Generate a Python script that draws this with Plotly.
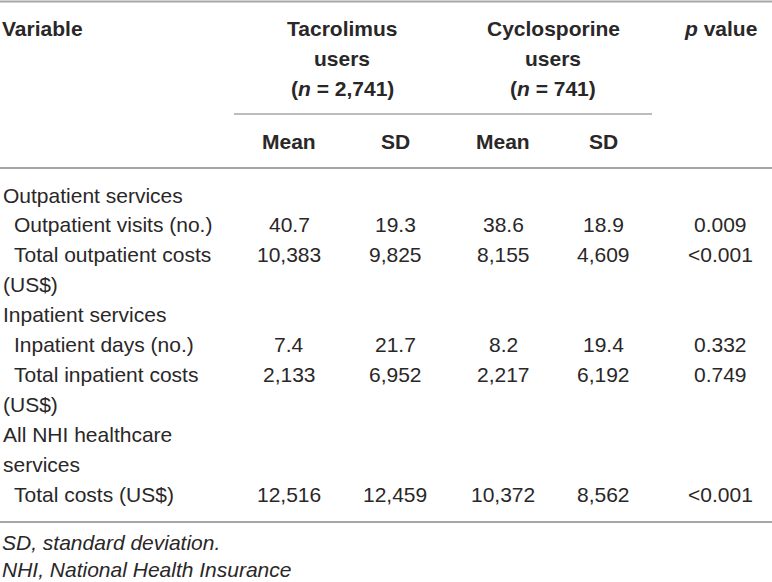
import plotly.graph_objects as go

# ---- table contents ----
row_labels = [
    ["Outpatient services"],
    ["Outpatient visits (no.)"],
    ["Total outpatient costs", "(US$)"],
    ["Inpatient services"],
    ["Inpatient days (no.)"],
    ["Total inpatient costs", "(US$)"],
    ["All NHI healthcare", "services"],
    ["Total costs (US$)"],
]
row_indent = [False, True, True, False, True, True, False, True]

tac_mean = [None, 40.7, 10383, None, 7.4, 2133, None, 12516]
tac_sd = [None, 19.3, 9825, None, 21.7, 6952, None, 12459]
cyc_mean = [None, 38.6, 8155, None, 8.2, 2217, None, 10372]
cyc_sd = [None, 18.9, 4609, None, 19.4, 6192, None, 8562]
p_values = [None, "0.009", "<0.001", None, "0.332", "0.749", None, "<0.001"]

groups = ["Tacrolimus", "Cyclosporine"]
group_n = ["2,741", "741"]
sub_headers = ["Mean", "SD", "Mean", "SD"]
footnotes = ["SD, standard deviation.", "NHI, National Health Insurance"]

# ---- layout constants ----
W, H = 772, 582
FONT = "Liberation Sans, Arial, sans-serif"
FS = 21
TXT = "#2a2728"
RULE = "#a6a6a6"
col_x = [289, 395, 503, 603, 720]
group_x = [342, 553]
line_y0 = 195
line_step = 29.9


def fmt(v):
    if v is None:
        return ""
    if v < 100:
        return f"{v:.1f}"
    return f"{v:,.0f}"


fig = go.Figure()
ann = []


def add_text(x, y, text, xanchor="center", size=FS):
    ann.append(
        dict(
            x=x,
            y=y,
            text=text,
            xref="x",
            yref="y",
            xanchor=xanchor,
            yanchor="middle",
            showarrow=False,
            font=dict(family=FONT, size=size, color=TXT),
        )
    )


######### HEADER #########
add_text(0, 28, "<b>Variable</b>", xanchor="left")
for gx, name, n in zip(group_x, groups, group_n):
    add_text(gx, 28, f"<b>{name}</b>")
    add_text(gx, 58, "<b>users</b>")
    add_text(gx, 88, f"<b>(<i>n</i> = {n})</b>")
add_text(col_x[4], 28, "<b><i>p</i> value</b>")
for cx, h in zip(col_x[:4], sub_headers):
    add_text(cx, 141, f"<b>{h}</b>")

######### BODY #########
line = 0
for i, labels in enumerate(row_labels):
    y = line_y0 + line * line_step
    for j, lab in enumerate(labels):
        x0 = 12 if (row_indent[i] and j == 0) else 1
        add_text(x0, y + j * line_step, lab, xanchor="left")
    vals = [fmt(tac_mean[i]), fmt(tac_sd[i]), fmt(cyc_mean[i]), fmt(cyc_sd[i]),
            p_values[i] or ""]
    for cx, v in zip(col_x, vals):
        if v:
            add_text(cx, y, v)
    line += len(labels)

######### FOOTNOTES #########
add_text(0, 542, f"<i>{footnotes[0]}</i>", xanchor="left")
add_text(0, 569, f"<i>{footnotes[1]}</i>", xanchor="left")

######### RULES #########
shapes = []
for (xa, xb, yy, w) in [(0, W, 1.5, 2), (234, 652, 114, 1.6), (0, W, 168, 2), (0, W, 522, 2)]:
    shapes.append(
        dict(type="line", xref="x", yref="y", x0=xa, x1=xb, y0=yy, y1=yy,
             line=dict(color=RULE, width=w))
    )

fig.update_layout(
    width=W,
    height=H,
    margin=dict(l=0, r=0, t=0, b=0),
    paper_bgcolor="white",
    plot_bgcolor="white",
    annotations=ann,
    shapes=shapes,
    showlegend=False,
    xaxis=dict(range=[0, W], visible=False, fixedrange=True),
    yaxis=dict(range=[H, 0], visible=False, fixedrange=True),
)

fig.write_html(
    "out.html",
    config={"displayModeBar": False},
    post_script="document.body.style.margin='0px';document.body.style.overflow='hidden';",
)
